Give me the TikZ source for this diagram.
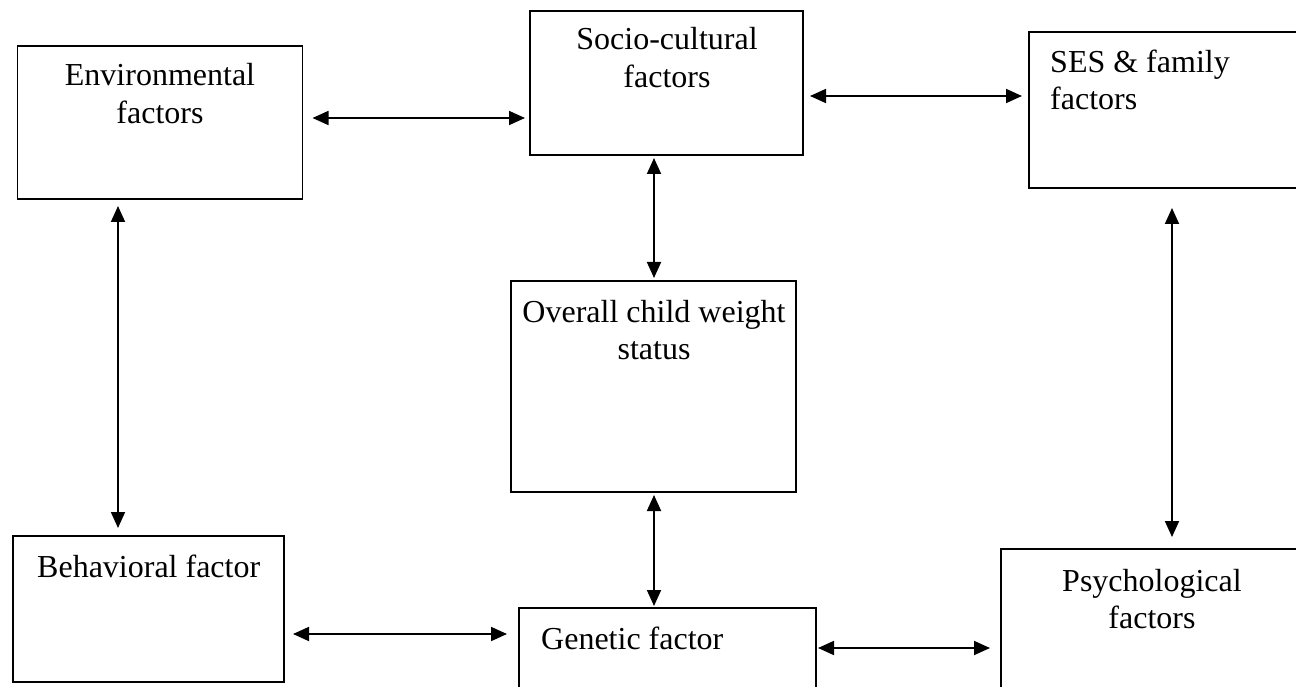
\documentclass[tikz,border=0pt]{standalone}
\usepackage{fontspec}
\setmainfont{Liberation Serif}
\usetikzlibrary{arrows.meta}
\begin{document}
\begin{tikzpicture}[x=1pt,y=-1pt,
  box/.style={draw,line width=1.7pt,rectangle,inner sep=0pt,outer sep=0pt},
  lbl/.style={inner sep=0pt,anchor=base,font=\fontsize{32}{38}\selectfont},
  lbll/.style={lbl,anchor=base west},
  arr/.style={line width=1.8pt,{Triangle[length=16pt,width=14pt]}-{Triangle[length=16pt,width=14pt]}}]
\useasboundingbox (0,0) rectangle (1296,687);
\clip (0,0) rectangle (1296,687);
% boxes
\node[box,minimum width=285pt,minimum height=153pt] (env) at (160,122.5) {};
\node[box,minimum width=273pt,minimum height=144pt] (soc) at (666.5,83) {};
\node[box,minimum width=300pt,minimum height=156pt] (ses) at (1179,110) {};
\node[box,minimum width=285pt,minimum height=211pt] (ovr) at (653.5,386.5) {};
\node[box,minimum width=271pt,minimum height=146pt] (beh) at (148.5,609) {};
\node[box,minimum width=297pt,minimum height=120pt] (gen) at (667.5,668) {};
\node[box,minimum width=320pt,minimum height=180pt] (psy) at (1161,639) {};
% labels
\node[lbl] (envA) at (160,86) {Environmental};
\node[lbl] (envB) at (160,124) {factors};
\node[lbl] (socA) at (667,50) {Socio-cultural};
\node[lbl] (socB) at (667,88) {factors};
\node[lbll] (sesA) at (1050,73) {SES \& family};
\node[lbll] (sesB) at (1050,110) {factors};
\node[lbl] (ovrA) at (654,322) {Overall child weight};
\node[lbl] (ovrB) at (654,359) {status};
\node[lbll] (behA) at (37,577) {Behavioral factor};
\node[lbll] (genA) at (541,649) {Genetic factor};
\node[lbl] (psyA) at (1152,591) {Psychological};
\node[lbl] (psyB) at (1152,628) {factors};
% connectors
\draw[arr] ([xshift=10pt]env.east |- 0,118) -- ([xshift=-5pt]soc.west |- 0,118);
\draw[arr] ([xshift=7pt]soc.east |- 0,96) -- ([xshift=-7pt]ses.west |- 0,96);
\draw[arr] ([yshift=-3pt]soc.south -| 654,0) -- ([yshift=3pt]ovr.north -| 654,0);
\draw[arr] ([yshift=-7pt]env.south -| 118,0) -- ([yshift=8pt]beh.north -| 118,0);
\draw[arr] ([yshift=-20pt]ses.south -| 1172,0) -- ([yshift=12pt]psy.north -| 1172,0);
\draw[arr] ([yshift=-3pt]ovr.south -| 654,0) -- ([yshift=2pt]gen.north -| 654,0);
\draw[arr] ([xshift=9pt]beh.east |- 0,634) -- ([xshift=-12pt]gen.west |- 0,634);
\draw[arr] ([xshift=2pt]gen.east |- 0,648) -- ([xshift=-11pt]psy.west |- 0,648);
\end{tikzpicture}
\end{document}
